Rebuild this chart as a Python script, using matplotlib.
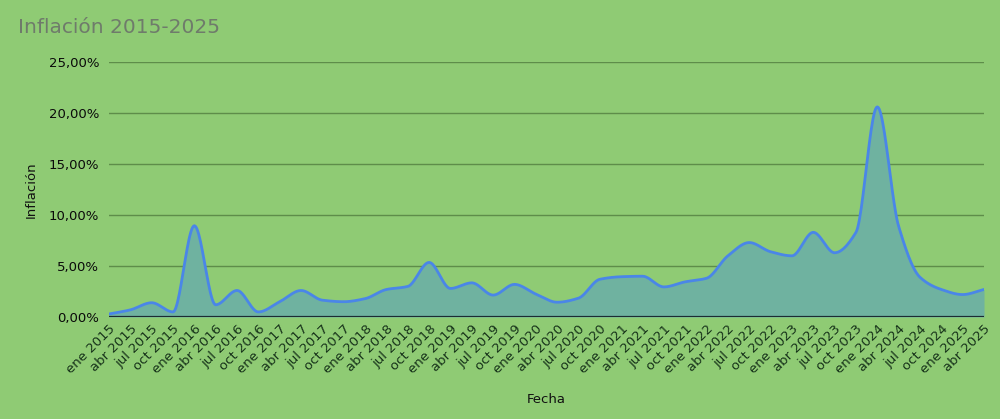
import numpy as np
import matplotlib
matplotlib.use("Agg")
import matplotlib.pyplot as plt
from matplotlib.ticker import FuncFormatter

# quarterly monthly-inflation values (%)
years = list(range(2015, 2026))
months = ["ene", "abr", "jul", "oct"]
fechas = ["{0} {1}".format(m, y) for y in years for m in months][:42]

inflacion = [
    0.3, 0.7, 1.4, 0.5,      # 2015
    8.95, 1.2, 2.6, 0.5,     # 2016
    1.5, 2.6, 1.65, 1.5,     # 2017
    1.8, 2.7, 3.0, 5.35,     # 2018
    2.8, 3.35, 2.15, 3.2,    # 2019
    2.25, 1.45, 1.85, 3.7,   # 2020
    3.95, 4.0, 2.95, 3.45,   # 2021
    3.8, 6.0, 7.3, 6.4,      # 2022
    6.0, 8.3, 6.3, 8.3,      # 2023
    20.6, 8.9, 3.9, 2.7,     # 2024
    2.2, 2.7,                # 2025
]

bg = "#8fcb74"
line_c = "#4a86e8"
fill_c = "#6fb2a0"
grid_c = "#5e8d4a"


def smooth( y, n=24 ):
    # monotone cubic (fritsch-carlson) through the points
    y = np.asarray( y, dtype=float )
    d = np.diff( y )
    m = np.zeros_like( y )
    m[0], m[-1] = d[0], d[-1]
    for i in range( 1, len(y)-1 ):
        if d[i-1]*d[i] > 0:
            m[i] = 2.0/( 1.0/d[i-1] + 1.0/d[i] )
    xs, ys = [], []
    for i in range( len(y)-1 ):
        t = np.linspace( 0, 1, n, endpoint=False )
        h00 = 2*t**3 - 3*t**2 + 1
        h10 = t**3 - 2*t**2 + t
        h01 = -2*t**3 + 3*t**2
        h11 = t**3 - t**2
        xs.append( i + t )
        ys.append( h00*y[i] + h10*m[i] + h01*y[i+1] + h11*m[i+1] )
    xs.append( [len(y)-1] )
    ys.append( [y[-1]] )
    return np.concatenate( xs ), np.concatenate( ys )


x = np.arange( len(inflacion) )
xs, ys = smooth( inflacion )

fig = plt.figure( figsize=(10, 4.19), dpi=100, facecolor=bg )
ax = fig.add_axes( [0.109, 0.2434, 0.875, 0.6086] )
ax.set_facecolor( bg )

ax.fill_between( xs, 0, ys, color=fill_c, lw=0, zorder=2 )
ax.plot( xs, ys, color=line_c, lw=2.0, zorder=3, solid_capstyle="round" )

ax.set_xlim( 0, len(inflacion)-1 )
ax.set_ylim( 0, 25 )
ax.set_yticks( [0, 5, 10, 15, 20, 25] )
ax.yaxis.set_major_formatter( FuncFormatter( lambda v, p: "{0:.2f}%".format(v).replace(".", ",") ) )
ax.grid( axis="y", color=grid_c, lw=1.0, zorder=1 )
ax.axhline( 0, color="#1c2b33", lw=1.6, zorder=4 )

ax.set_xticks( x )
ax.set_xticklabels( fechas, rotation=45, ha="right", va="top",
                    rotation_mode="anchor", fontsize=9.5, color="#17331a" )
ax.tick_params( axis="x", length=0, pad=4 )
ax.tick_params( axis="y", length=0, pad=7, labelsize=9.5, labelcolor="#0a0a0a" )

for s in ax.spines.values():
    s.set_visible( False )

ax.set_xlabel( "Fecha", fontsize=9.5, color="#111111", labelpad=12 )
ax.set_ylabel( "Inflación", fontsize=9.5, color="#111111" )
ax.yaxis.set_label_coords( -0.082, 0.5 )

fig.text( 0.018, 0.935, "Inflación 2015-2025", fontsize=14.5, color="#6f7b6b",
          ha="left", va="center" )

fig.savefig( "out.png", dpi=100, facecolor=bg )
